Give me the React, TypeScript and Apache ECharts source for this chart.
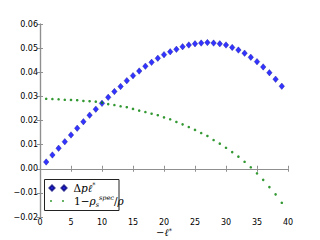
import React, { useEffect, useRef } from "react";
import * as echarts from "echarts";

const xValues = [1, 2, 3, 4, 5, 6, 7, 8, 9, 10, 11, 12, 13, 14, 15, 16, 17, 18, 19, 20, 21, 22, 23, 24, 25, 26, 27, 28, 29, 30, 31, 32, 33, 34, 35, 36, 37, 38, 39];
const deltaP = [0.0028, 0.0057, 0.0085, 0.0112, 0.014, 0.0168, 0.0195, 0.0222, 0.0247, 0.0271, 0.0296, 0.032, 0.0341, 0.0365, 0.0386, 0.0405, 0.0425, 0.0441, 0.0458, 0.0473, 0.0485, 0.0495, 0.0506, 0.0513, 0.0518, 0.0521, 0.0523, 0.0521, 0.0518, 0.0513, 0.0503, 0.0492, 0.0479, 0.0462, 0.0444, 0.0422, 0.0398, 0.0371, 0.0342];
const oneMinusRho = [0.029, 0.0289, 0.0288, 0.0286, 0.0285, 0.0284, 0.0281, 0.028, 0.0278, 0.0274, 0.0268, 0.0264, 0.0259, 0.0255, 0.0248, 0.0241, 0.0235, 0.0228, 0.0222, 0.0213, 0.0205, 0.0194, 0.0184, 0.0173, 0.0161, 0.0148, 0.0136, 0.0119, 0.0104, 0.0087, 0.0069, 0.005, 0.0029, 0.0006, -0.0019, -0.0046, -0.0076, -0.0106, -0.0141];
const yTickLabels = ["\u22120.02", "\u22120.01", "0.00", "0.01", "0.02", "0.03", "0.04", "0.05", "0.06"];
const xTickLabels = ["0", "5", "10", "15", "20", "25", "30", "35", "40"];
const seriesNames = ["deltaP", "oneMinusRho"];

const FRAME = "#8f8f8f";
const SANS = "DejaVu Sans";
const SERIF = "DejaVu Serif";

const richMath = {
  g: { width: 1, fontSize: 10, lineHeight: 14 },
  u: { fontFamily: SERIF, fontSize: 10.5, color: "#000", lineHeight: 14 },
  i: { fontFamily: SERIF, fontStyle: "italic", fontSize: 10.5, color: "#000", lineHeight: 14 },
  sup: { fontFamily: SERIF, fontStyle: "italic", fontSize: 6.5, color: "#000", verticalAlign: "top", lineHeight: 14, padding: [0, 0, 4, 0] },
  sub: { fontFamily: SERIF, fontStyle: "italic", fontSize: 6.5, color: "#000", verticalAlign: "bottom", lineHeight: 14 },
};

const richName = {
  u: { fontFamily: SERIF, fontSize: 10, color: "#000", lineHeight: 10 },
  i: { fontFamily: SERIF, fontStyle: "italic", fontSize: 10, color: "#000", lineHeight: 10 },
  sup: { fontFamily: SERIF, fontStyle: "italic", fontSize: 6.5, color: "#000", verticalAlign: "top", lineHeight: 10, padding: [0, 0, 3, 0] },
};

export default function App() {
  const ref = useRef<HTMLDivElement>(null);
  useEffect(() => {
    if (!ref.current) return;
    const chart = echarts.init(ref.current, undefined, { renderer: "svg" });
    const axisCommon = {
      type: "value" as const,
      splitLine: { show: false },
      axisLine: { show: true, lineStyle: { color: FRAME, width: 1.2 } },
      axisTick: { show: true, inside: true, length: 3, lineStyle: { color: FRAME, width: 1 } },
    };
    chart.setOption({
      animation: false,
      backgroundColor: "#fff",
      grid: { left: 40, top: 24, right: 32, bottom: 23, containLabel: false, outerBoundsMode: "none" },
      xAxis: [
        {
          ...axisCommon,
          position: "bottom",
          min: 0,
          max: 40,
          interval: 5,
          axisLabel: {
            show: true,
            margin: 1,
            fontFamily: SANS,
            fontSize: 8,
            color: "#000",
            lineHeight: 8,
            formatter: (_v: number, i: number) => xTickLabels[i],
          },
          name: "{u|\u2212}{i|\u2113}{sup|*}",
          nameLocation: "middle",
          nameGap: 10,
          nameMoveOverlap: false,
          nameTextStyle: { rich: richName },
        },
        {
          ...axisCommon,
          position: "top",
          min: 0,
          max: 40,
          interval: 5,
          axisLabel: { show: false },
        },
      ],
      yAxis: [
        {
          ...axisCommon,
          position: "left",
          min: -0.02,
          max: 0.06,
          interval: 0.01,
          axisLabel: {
            show: true,
            margin: 2,
            fontFamily: SANS,
            fontSize: 8,
            color: "#000",
            formatter: (_v: number, i: number) => yTickLabels[i],
          },
        },
        {
          ...axisCommon,
          position: "right",
          min: -0.02,
          max: 0.06,
          interval: 0.01,
          axisLabel: { show: false },
        },
      ],
      legend: [
        {
          data: [{ name: seriesNames[0], icon: "path://M0,2.5 L2.5,0 L5,2.5 L2.5,5 Z M12,2.5 L14.5,0 L17,2.5 L14.5,5 Z" }],
          left: 48.5,
          top: 181,
          padding: 0,
          itemWidth: 17,
          itemHeight: 5,
          selectedMode: false,
          formatter: () => "{g|}{u|\u0394}{i|p\u2113}{sup|*}",
          textStyle: { rich: { ...richMath, g: { width: 2, fontSize: 10, lineHeight: 14 } } },
        },
        {
          data: [{ name: seriesNames[1], icon: "path://M0,1 A1,1 0 1,1 2,1 A1,1 0 1,1 0,1 Z M12,1 A1,1 0 1,1 14,1 A1,1 0 1,1 12,1 Z" }],
          left: 50,
          top: 194,
          padding: 0,
          itemWidth: 14,
          itemHeight: 2,
          selectedMode: false,
          formatter: () => "{g|}{u|1\u2212}{i|\u03c1}{sub|s}{sup|spec}{u|/}{i|\u03c1}",
          textStyle: { rich: { ...richMath, g: { width: 5, fontSize: 10, lineHeight: 14 } } },
        },
      ],
      graphic: [
        {
          type: "rect",
          shape: { x: 44.5, y: 179.5, width: 74.5, height: 31 },
          style: { fill: "none", stroke: "#222", lineWidth: 1 },
          z: 10,
        },
      ],
      series: [
        {
          name: seriesNames[0],
          type: "scatter",
          symbol: "diamond",
          symbolSize: [5.5, 6.5],
          data: xValues.map((x, i) => [x, deltaP[i]]),
          itemStyle: { color: "#0000ff", borderColor: "#00007a", borderWidth: 0.4 },
          markLine: {
            silent: true,
            symbol: ["none", "none"],
            label: { show: false },
            lineStyle: { color: FRAME, width: 1.2, type: "solid" },
            data: [{ yAxis: 0 }],
          },
          z: 3,
        },
        {
          name: seriesNames[1],
          type: "scatter",
          symbol: "circle",
          symbolSize: 2.6,
          data: xValues.map((x, i) => [x, oneMinusRho[i]]),
          itemStyle: { color: "#008000" },
          z: 4,
        },
      ],
    });
    return () => chart.dispose();
  }, []);
  return <div ref={ref} style={{ position: "absolute", left: 0, top: 0, width: 320, height: 240 }} />;
}
